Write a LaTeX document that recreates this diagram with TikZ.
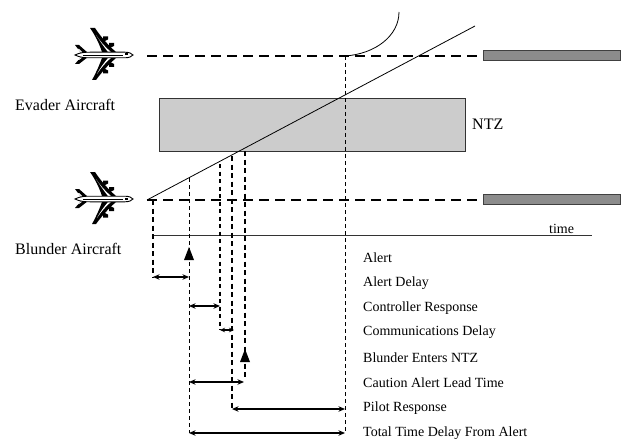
\documentclass[tikz,border=0pt]{standalone}
\usepackage{fontspec}
\setmainfont{Liberation Serif}
\usetikzlibrary{arrows.meta}
\tikzset{
  thinD/.style={draw=black,line width=0.9pt,dash pattern=on 4pt off 3pt},
  medD/.style={draw=black,line width=1.1pt,dash pattern=on 4pt off 3.5pt},
  thickD/.style={draw=black,line width=1.8pt,dash pattern=on 5pt off 3.5pt},
  longD/.style={draw=black,line width=1.5pt,dash pattern=on 10pt off 6pt},
  span/.style={draw=black,line width=1.2pt,{Stealth[length=6.5pt,width=5.5pt]}-{Stealth[length=6.5pt,width=5.5pt]}},
  lab/.style={anchor=west,inner sep=0pt,font=\fontsize{14}{16}\selectfont},
  biglab/.style={anchor=west,inner sep=0pt,font=\fontsize{16}{18}\selectfont},
  bar/.style={draw=black!75,line width=1pt,fill=black!45},
  plane/.pic={
    % wings
    \fill[black] (-15,-27) -- (-10,-27) .. controls (-4,-18) and (3,-10) .. (11,-3) -- (-3,-3) .. controls (-6,-12) and (-10,-20) .. cycle;
    \fill[black] (-13,25) -- (-9,25) .. controls (-3,17) and (3,10) .. (11,3) -- (-3,3) .. controls (-6,11) and (-9,18) .. cycle;
    \fill[white] (-9,-20) .. controls (-5,-14) and (0,-8) .. (6,-3) -- (3,-3) .. controls (-1,-8) and (-5,-14) .. cycle;
    \fill[white] (-8,19) .. controls (-4,13) and (0,8) .. (6,3) -- (3,3) .. controls (-1,8) and (-5,13) .. cycle;
    % engines
    \fill[black] (-2,-18.5) -- (3,-18.5) -- (3,-15.5) -- (-2,-13) -- cycle;
    \fill[black] (4,-12) -- (9,-12) -- (9,-9) -- (4,-6.5) -- cycle;
    \fill[black] (-2,18.5) -- (3,18.5) -- (3,15.5) -- (-2,13) -- cycle;
    \fill[black] (4,12) -- (9,12) -- (9,9) -- (4,6.5) -- cycle;
    % tail
    \fill[black] (-30,-10) -- (-26,-10) -- (-17,-2) -- (-24,-2) -- cycle;
    \fill[black] (-30,9) -- (-26,9) -- (-17,2) -- (-24,2) -- cycle;
    \fill[white] (-27.5,-6) -- (-26,-6) -- (-22,-2) -- (-23.5,-2) -- cycle;
    \fill[white] (-27.5,5) -- (-26,5) -- (-22,2) -- (-23.5,2) -- cycle;
    % fuselage
    \filldraw[fill=white,draw=black,line width=0.9pt] (-30,0) .. controls (-25,-2.6) and (-20,-2.8) .. (-15,-2.8) -- (20,-2.8) .. controls (24,-2.8) and (27,-1.5) .. (28,0) .. controls (27,1.5) and (24,2.8) .. (20,2.8) -- (-15,2.8) .. controls (-20,2.8) and (-25,2.6) .. (-30,0) -- cycle;
    \draw[black,line width=0.9pt] (-22,0.6) -- (18,0.6);
    \fill[black] (20,-1.5) rectangle (23,0.5);
  }
}
\begin{document}
\begin{tikzpicture}[x=1pt,y=-1pt]
\useasboundingbox (0,0) rectangle (621,441);
\coordinate (lineS) at (147,200);
\coordinate (lineE) at (475,26);
\coordinate (topS) at (147,56);
\coordinate (topE) at (478,56);
\coordinate (botE) at (478,200);
\coordinate (curveS) at (345,56);
\coordinate (curveE) at (399,12);
\coordinate (tlS) at (152,235);
\coordinate (tlE) at (592,235);
\coordinate (a1) at (153,200); \coordinate (a2) at (153,277);
\coordinate (b1) at (189,178); \coordinate (b2) at (189,433);
\coordinate (c1) at (220,164); \coordinate (c2) at (220,330);
\coordinate (d1) at (232,156); \coordinate (d2) at (232,409);
\coordinate (e1) at (245,151); \coordinate (e2) at (245,380);
\coordinate (f1) at (345,56); \coordinate (f2) at (345,433);

\pic at (105,55) {plane};
\pic at (105,199) {plane};

\node[draw=black!80,line width=1pt,fill=black!20,minimum width=306pt,minimum height=53pt,inner sep=0pt,anchor=north west] (ntz) at (159,98) {};
\node[bar,minimum width=137pt,minimum height=10pt,inner sep=0pt,anchor=west] (barT) at (483,56) {};
\node[bar,minimum width=137pt,minimum height=10pt,inner sep=0pt,anchor=west] (barB) at (483,199) {};

\draw[longD] (topS) -- (topE);
\draw[longD] (lineS) -- (botE);
\draw[black,line width=0.8pt] (lineS) -- (lineE);
\draw[black,line width=0.8pt] (curveS) .. controls (375,54) and (399,36) .. (curveE);
\draw[black!80,line width=1pt] (tlS) -- (tlE);

\draw[thickD] (a1) -- (a2);
\draw[thinD] (b1) -- (b2);
\draw[medD] (c1) -- (c2);
\draw[thickD] (d1) -- (d2);
\draw[thickD] (e1) -- (e2);
\draw[thinD] (f1) -- (f2);

\fill[black] (189,247) -- (194,260) -- (184,260) -- cycle;
\fill[black] (245,349) -- (250,362) -- (240,362) -- cycle;

\draw[span] (a2) -- (189,277);
\draw[span] (189,306) -- (220,306);
\draw[span,{Stealth[length=5pt,width=4.5pt]}-{Stealth[length=5pt,width=4.5pt]}] (c2) -- (234,330);
\draw[span] (189,382) -- (244,382);
\draw[span] (d2) -- (345,409);
\draw[span] (b2) -- (f2);

\node[biglab] (tEv) at (15,105) {Evader Aircraft};
\node[biglab] (tBl) at (15,249) {Blunder Aircraft};
\node[biglab] (tNt) at (472,124) {NTZ};
\node[lab] (tTi) at (549,229) {time};
\node[lab] (l1) at (363,258) {Alert};
\node[lab] (l2) at (363,283) {Alert Delay};
\node[lab] (l3) at (363,308) {Controller Response};
\node[lab] (l4) at (363,332) {Communications Delay};
\node[lab] (l5) at (363,358) {Blunder Enters NTZ};
\node[lab] (l6) at (363,383) {Caution Alert Lead Time};
\node[lab] (l7) at (363,408) {Pilot Response};
\node[lab] (l8) at (363,433) {Total Time Delay From Alert};
\end{tikzpicture}
\end{document}
